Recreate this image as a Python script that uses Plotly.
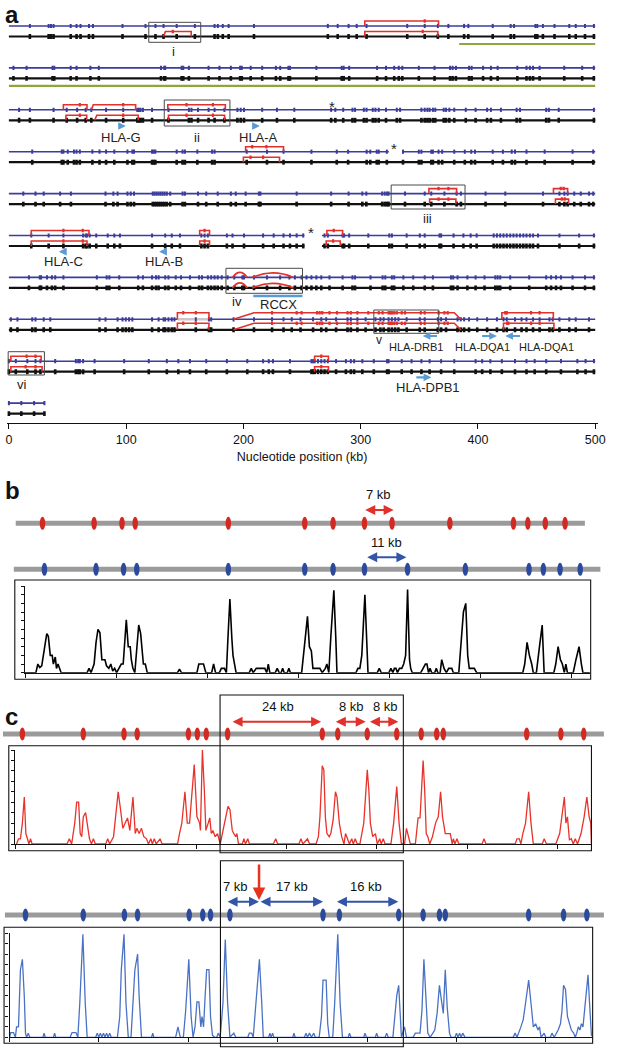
import plotly.graph_objects as go

# ======================= DATA =======================
# ---- panel a: restriction-site positions (kb) on each row ----
row1_sites = [17.9, 33.9, 35.9, 38.1, 52.7, 57.7, 61.1, 68.3, 71.7, 96.9, 116.5, 125, 131.9, 143.1, 158.6,
              175.4, 178.2, 182.4, 187.4, 209, 272, 280.4, 289.7, 296.6, 305, 339.7, 354.6, 365.8, 374.8,
              388.2, 391.8, 412.6, 427.9, 430.8, 449, 450.6, 455.4, 465.3, 477.9, 483.4, 491.3, 498.9]
row2_sites = [3.9, 15.1, 37.2, 38.7, 52.7, 57.7, 69.5, 76.7, 129.7, 132.5, 133.3, 147.3, 148.7, 153.5, 170.3,
              179.6, 189.3, 197.2, 198.6, 206.2, 216, 227.7, 231.4, 238.4, 239.7, 262.2, 283.8, 285.5, 290.2,
              314, 321.6, 328.6, 332.5, 335.5, 349.6, 363, 376.2, 378.4, 381.2, 392.4, 394.6, 404.4, 411.1,
              416.8, 433.6, 441.4, 444.3, 447, 452.6, 473.6, 488.9, 498.8]
row3_sites = [8.7, 17.9, 38.1, 49.3, 58.2, 65.5, 70.3, 82.9, 97.5, 109.5, 110.9, 112.3, 114.3, 122.1, 136.1,
              153.5, 155.7, 161.3, 170.3, 175.4, 183.8, 194.9, 197.7, 200.5, 216, 228.6, 243.4, 274.8, 278.4,
              285.1, 293, 295.2, 302.7, 305, 310.3, 312.6, 315.4, 321.6, 330.8, 333.6, 351.8, 354.6, 356.9,
              358.8, 361.6, 363.6, 370.8, 372.8, 375.6, 379.8, 389.6, 398, 407.8, 411.1, 419.6, 433, 435.9,
              458.2, 460.5, 468.9, 498.9]
row4_sites = [19.9, 45.1, 46.5, 50.2, 55.5, 57.7, 60.5, 71.2, 77.3, 82.9, 89.9, 101.1, 105.3, 106.7, 122.1,
              123.5, 124.9, 143.1, 148.1, 150.1, 160.7, 173.3, 175.4, 202.8, 220.1, 234.2, 258, 279.6, 289.3,
              305.1, 308.2, 313.7, 315.4, 322.3, 336.1, 349.6, 351.8, 360.2, 361.6, 366.4, 369.5, 379.8,
              388.8, 394.3, 397.5, 412.6, 421.3, 428.8, 431.6, 441.4, 456.9, 480.7, 498.3]
row5_sites = [12.3, 22.7, 29.7, 43.7, 52.9, 82.4, 89.1, 92.7, 101.1, 103.9, 106.7, 122.7, 124.3, 126, 127.7,
              129.4, 131.1, 132.8, 134.7, 137.6, 148.1, 150.1, 161.3, 168.3, 178.1, 189.3, 193.5, 201.9,
              213.2, 214.5, 245.4, 274.8, 289.7, 301.4, 304.8, 318.3, 320.5, 322.5, 323.8, 337.8, 354.6,
              360.2, 371.4, 381.8, 385.5, 406.5, 423.3, 455.5, 469.5, 473.7, 476.5, 482.1, 487.7, 494.7, 498.3]
row6_sites = [19.1, 33.9, 46.5, 63.3, 65.5, 66.6, 68.9, 74.5, 84.3, 89.9, 94.7, 122.1, 133.3, 138.9, 145.9,
              164.1, 166.9, 169.7, 185.9, 190.7, 200.5, 216.8, 225.8, 234.2, 239.7, 245.4, 251, 269.2, 272,
              284.6, 285.9, 290.2, 306.5, 324.4, 326.6, 339.2, 350.4, 354.6, 367.2, 368.6, 379.2, 387.6,
              393.8, 398.9, 413.4, 416.2, 419, 421.8, 424.6, 427.5, 430.3, 433, 435.9, 438.7, 441.4, 444.3,
              447, 451.2, 469.5, 486.3, 498.9]
row7_sites = [17.1, 26.3, 27.5, 32.5, 36.7, 39.5, 46.5, 75, 83.4, 85.7, 94.1, 110.3, 114.3, 122.1, 125.5,
              127.7, 133.3, 136.1, 142.3, 146.8, 154.4, 162.2, 164.7, 169.7, 172.5, 175.4, 178.1, 181.5,
              186.5, 192.2, 199.1, 200.5, 209, 220.1, 231.3, 239.2, 243.9, 249.6, 253.8, 258, 262.2, 266.4,
              273.4, 284.6, 293, 295.2, 308.4, 318.7, 321, 326.6, 328.6, 336.4, 344.8, 354.6, 361.6, 377,
              378.9, 382.6, 391, 398, 405.6, 414.8, 416.8, 419, 427.5, 443.7, 458.2, 462.4, 466.6, 470.8,
              480.7, 491.3, 498.9]
row8_sites = [1.7, 7.3, 19.9, 22.7, 29.7, 35.3, 77.3, 82.4, 92.7, 96.9, 99.7, 102.5, 105.3, 122.1, 127.7,
              131.9, 133.3, 136.1, 138.9, 141.2, 159.4, 170.6, 172.5, 191.6, 209, 224.4, 234.2, 241.2, 248.7,
              259.4, 266.4, 270.6, 279, 288.8, 291.6, 297.2, 304.2, 312.6, 316.8, 319.6, 323.8, 326.6, 329.4,
              332.2, 339.2, 350.4, 354.6, 365.8, 368.6, 372.8, 382.6, 385.4, 388.2, 392.4, 399.4, 407.8,
              416.2, 421.8, 424.6, 431.6, 437.2, 441.4, 447, 452.6, 461, 463.8, 469.5, 477.9, 483.4, 494.7]
row9_sites = [0, 5.9, 15.7, 22.7, 26.9, 39.5, 57.1, 59.1, 60.5, 63.3, 73.1, 98.3, 119.3, 134.7, 144.5, 154.4,
              168.3, 185.9, 203.3, 216.8, 221.6, 225.2, 239.7, 258, 259.4, 260.8, 263.6, 266.4, 269.2, 272,
              279, 287.4, 291.6, 294.4, 301.4, 311.2, 322.5, 323.8, 335, 343.4, 351.8, 358.8, 368.6, 379.8,
              398, 403.6, 410.6, 420.4, 431.6, 441.4, 448.4, 458.2, 470.8, 484.8, 491.8, 498.9]
row10_sites = [0, 10.6, 21.5, 30.3]
row_ends = [500, 500, 500, 500, 500, 500, 500, 500, 500, 30.3]
blue_gaps = {4: [(324, 336)], 6: [(252, 267)]}
black_gaps = {6: [(252, 267)]}
green_bars = [(1, 384, 500), (2, 0, 500)]
stars = [(3, 275.6), (4, 328.8), (6, 258.0)]
# (row, track, left-base, left-top, right-top, right-base, marks)
row8_marks = [224.4, 245.4, 249.6, 262.8, 265, 267.2, 273.4, 279.8, 288.8, 291.6, 297.2, 306.5, 315.4,
              318.7, 323.8, 325.2, 326.6, 328.6, 330.8, 335, 337.8, 351.3, 354.6, 366.4, 371.4, 374.2]
brackets = [
    (1, 'black', 131.9, 133.5, 155.5, 155.5, [139.8]),
    (1, 'blue', 303.5, 303.5, 366.4, 366.4, [354.6]),
    (1, 'black', 303.5, 303.5, 365.8, 365.8, [352.9]),
    (3, 'blue', 46.5, 46.5, 66.6, 66.6, [60.5]),
    (3, 'blue', 70.3, 72.0, 108.1, 108.1, [97.5]),
    (3, 'black', 48.7, 48.7, 66.4, 66.4, [60.5]),
    (3, 'black', 73.1, 75.0, 110.3, 110.3, [97.5]),
    (3, 'blue', 135.5, 135.5, 184.6, 184.6, [151.5, 174]),
    (3, 'black', 136.1, 136.1, 184.0, 184.0, [151.5, 174]),
    (4, 'blue', 201.9, 201.9, 234.2, 234.2, [207.5, 219.6]),
    (4, 'black', 200.0, 200.0, 230.8, 230.8, [206.1, 216.8]),
    (5, 'blue', 358.2, 358.2, 381.8, 381.8, [366.4, 374.8]),
    (5, 'black', 358.8, 358.8, 381.2, 381.2, [366.4, 374.8]),
    (5, 'blue', 464.4, 464.4, 476.5, 476.5, [470.6, 473.1]),
    (5, 'black', 466.1, 466.1, 477.3, 477.3, [471.5, 474.0]),
    (6, 'blue', 19.1, 19.1, 68.3, 68.3, [46.5, 63]),
    (6, 'black', 19.1, 19.1, 66.6, 66.6, [46.5, 63]),
    (6, 'blue', 162.7, 162.7, 171.1, 171.1, [166.9]),
    (6, 'black', 162.7, 162.7, 171.1, 171.1, [166.9]),
    (6, 'blue', 271.2, 271.2, 284.6, 284.6, [277.0]),
    (6, 'black', 270.6, 270.6, 282.6, 282.6, [276.5]),
    (8, 'blue', 143.7, 143.7, 170.6, 170.6, [148.7, 159.4]),
    (8, 'black', 143.7, 143.7, 170.6, 170.6, [148.7, 159.4]),
    (8, 'blue', 191.6, 209.0, 379.8, 385.4, row8_marks),
    (8, 'black', 191.6, 209.0, 379.8, 385.4, row8_marks),
    (8, 'blue', 420.4, 420.4, 464.3, 464.3, [423.3, 424.6, 445.3, 452.6]),
    (8, 'black', 421.8, 421.8, 464.8, 464.8, [425.0, 426.0, 445.3, 452.6]),
    (9, 'blue', 1.7, 1.7, 27.5, 27.5, [15.1, 22.7]),
    (9, 'black', 1.7, 1.7, 28.3, 28.3, [14.3, 22.7]),
    (9, 'blue', 260.7, 260.7, 272.5, 272.5, [266.4]),
    (9, 'black', 260.7, 260.7, 272.5, 272.5, [266.4]),
]
arcs = [(7, 190.7, 203.3, 5.0), (7, 207.5, 242.6, 4.5)]
gap_band = (8, 143.7, 170.6)
# boxes: (x0 kb, x1 kb, y0 px, y1 px)
a_boxes = [(119.3, 163.6, 22.3, 42.3), (132.5, 188.5, 100, 126), (326, 389, 185, 209),
           (185.1, 250.4, 268.3, 293.3), (311.2, 366.6, 310, 333.3), (-0.6, 30.3, 351.7, 375)]
a_labels = [('i', 140.3, 51, 13), ('HLA-G', 95.5, 137, 13), ('ii', 160, 137, 13), ('HLA-A', 213.2, 137, 13),
            ('iii', 356.9, 218, 13), ('HLA-C', 46.5, 261.7, 13), ('HLA-B', 131.9, 261.7, 13),
            ('iv', 194.4, 301.7, 13), ('RCCX', 230, 304, 13), ('v', 315.4, 340, 12),
            ('HLA-DRB1', 347.6, 347.3, 11), ('HLA-DQA1', 403.6, 347.3, 11), ('HLA-DQA1', 458.2, 347.3, 11),
            ('vi', 11.5, 384, 13), ('HLA-DPB1', 357.4, 387.3, 13)]
gene_arrows = [(95.8, 99.8, 126), (210.0, 214.0, 126), (46.7, 42.7, 251.7), (132.2, 128.2, 251.7),
               (366.4, 352.9, 336), (402.3, 416.2, 336), (437.2, 423.3, 336), (346.2, 360.2, 377.3)]
rccx_bar = (208.4, 250.4, 296)
axis_ticks = [0, 100, 200, 300, 400, 500]

# ---- panel b ----
b_red_sites = [4.5, 17.8, 25, 28.4, 52.4, 72.1, 79.4, 87.5, 94.6, 109.5, 125.9, 129.6, 134.1, 139.2]
b_blue_sites = [5, 18.3, 25.4, 28.8, 52.4, 72.1, 79.4, 87.5, 98.6, 113.5, 129.9, 133.6, 137.9, 143.1]
b_red_line = (-2.4, 144.3)
b_blue_line = (-2.9, 148.3)
b_red_span = (87.3, 95.0, '7 kb')
b_blue_span = (87.8, 98.3, '11 kb')
b_profile = [(0, 0), (2.8, 0), (3.3, 1), (3.8, 0.6), (4.3, 0.8), (5.0, 3), (5.6, 4.5), (6.0, 4.2), (6.5, 2),
             (7.0, 2), (7.3, 1), (7.8, 1.8), (8.1, 0.5), (8.5, 1), (9.0, 0.4), (9.3, 0), (16.0, 0), (16.5, 0.5),
             (17.0, 0), (17.8, 1), (18.3, 3.5), (18.8, 5), (19.3, 4.6), (19.8, 1.5), (20.6, 1.5), (21.0, 0.8),
             (21.6, 0.5), (22.1, 1), (22.6, 0.2), (23.1, 0.5), (23.6, 0), (24.2, 0.5), (24.8, 1), (25.3, 1),
             (25.6, 3), (26.1, 6.1), (26.6, 3), (27.1, 3), (27.4, 1.5), (27.8, 0.5), (28.3, 0), (28.8, 3),
             (29.3, 5.5), (29.8, 4.5), (30.2, 2), (30.5, 1), (31.0, 1), (31.5, 0), (39.3, 0), (39.8, 0.4),
             (40.3, 0), (44.3, 0), (44.8, 1), (46.0, 1), (46.6, 0), (48.1, 0), (48.6, 1), (49.1, 0), (50.1, 0),
             (50.6, 0.5), (51.4, 0.5), (51.9, 0), (52.3, 4), (52.8, 8.5), (53.3, 4), (53.6, 2), (54.0, 1),
             (54.4, 0), (57.8, 0), (58.3, 0.5), (58.8, 0), (59.6, 0.5), (61.8, 0.5), (62.3, 0), (62.7, 1),
             (63.1, 0), (64.5, 0), (65.0, 0.5), (65.5, 0), (66.0, 0), (66.4, 0.5), (66.8, 0), (67.6, 0),
             (68.0, 0.5), (68.4, 0), (71.3, 0), (72.0, 3), (72.8, 6.5), (73.3, 3), (73.8, 2.5), (74.2, 0.5),
             (75.3, 0.5), (76.0, 0.5), (76.6, 0), (77.4, 0.5), (77.8, 1), (78.3, 0), (78.8, 4), (79.6, 9.5),
             (80.1, 4), (80.4, 0), (85.3, 0), (85.8, 0.5), (86.3, 0.5), (86.8, 2), (87.6, 9), (88.1, 2),
             (88.4, 0), (90.8, 0), (91.3, 0.5), (91.8, 0), (93.8, 0), (94.3, 0.5), (94.8, 0), (95.2, 0.5),
             (95.6, 0.5), (96.0, 0), (96.5, 0.5), (97.1, 0.5), (97.6, 1), (98.1, 2), (98.6, 9.6), (99.1, 1.5),
             (99.4, 0.5), (99.8, 0), (102.0, 0), (102.6, 0.5), (103.2, 1), (103.6, 1), (104.0, 0), (104.4, 0.5),
             (104.8, 0), (105.6, 0), (106.0, 0.5), (106.4, 0), (107.0, 0), (107.4, 1.5), (108.0, 0.5),
             (108.6, 0), (109.2, 0.5), (110.0, 0.5), (110.4, 0), (111.8, 0), (112.3, 3), (113.0, 7),
             (113.6, 8), (114.1, 2), (114.5, 0.5), (115.0, 0.5), (115.8, 0.5), (116.4, 0), (128.3, 0),
             (128.8, 1), (129.4, 3.5), (130.0, 2), (130.6, 1), (131.0, 0), (131.8, 0), (132.6, 3), (133.3, 5.5),
             (133.8, 0), (136.3, 0), (136.8, 1), (137.4, 3), (138.0, 1.5), (138.5, 1), (139.0, 0), (139.4, 1),
             (139.8, 0), (141.3, 0), (142.0, 1.5), (142.8, 3), (143.4, 1), (143.8, 0), (145.6, 0)]

# ---- panel c (top, red) ----
c_red_sites = [1.8, 17.5, 28, 31.4, 44.6, 46.9, 49.2, 54.7, 79.1, 83.1, 90.7, 98.3, 104.6, 108.6, 110.3,
               131.8, 140.6, 146.5]
c_red_line = (-3.2, 151.7)
c_red_spans = [(55.6, 78.8, '24 kb', 67.6), (82.2, 90.3, '8 kb', 86.7), (91.0, 98.7, '8 kb', 95.3)]
c_red_profile = [(0.3, 0), (0.8, 0.5), (1.3, 0.5), (1.8, 2), (2.3, 4.5), (2.7, 1), (3.1, 0.5), (3.5, 0),
                 (3.9, 0.5), (4.3, 0), (13.3, 0), (13.9, 0.5), (14.5, 0), (15.3, 2), (15.8, 4), (16.3, 4),
                 (16.7, 1), (17.1, 0.7), (17.5, 2.6), (18.1, 3), (18.5, 2), (19.1, 0.5), (19.6, 0), (20.1, 0.5),
                 (20.6, 0), (23.3, 0), (23.8, 0.5), (24.3, 0), (25.3, 0.7), (25.9, 2.6), (26.5, 5), (27.1, 3.3),
                 (27.7, 1.5), (28.3, 2), (28.9, 2.5), (29.5, 1.3), (30.3, 4.5), (30.9, 1), (31.3, 1.5),
                 (31.9, 1), (32.5, 1.5), (33.1, 0.7), (33.8, 0.5), (34.3, 0), (34.9, 0.5), (35.3, 0),
                 (35.8, 0.5), (36.3, 0), (37.3, 0.5), (37.8, 0), (41.8, 0), (42.3, 1), (42.9, 2), (43.7, 5),
                 (44.3, 2), (44.9, 2), (45.5, 5.2), (46.1, 7.6), (46.8, 2.6), (47.5, 2), (47.7, 1.3), (48.2, 9),
                 (48.7, 5.2), (49.1, 1.3), (49.7, 2), (50.1, 2.5), (50.5, 1), (50.9, 1.3), (51.5, 0.7),
                 (52.1, 1), (52.8, 0), (53.5, 1.3), (54.1, 2.6), (54.8, 3.6), (55.3, 3.3), (55.9, 1.3),
                 (56.3, 1), (56.8, 0.7), (57.1, 1), (57.5, 0), (58.5, 0), (58.9, 0.5), (59.3, 0), (59.9, 0.5),
                 (60.3, 0), (66.5, 0), (67.1, 0.5), (67.6, 0), (73.1, 0), (73.6, 0.5), (74.1, 0), (75.3, 0.5),
                 (75.8, 0), (77.5, 0), (78.1, 0.7), (78.5, 2.6), (79.1, 7.5), (79.5, 7.1), (79.9, 2.6),
                 (80.3, 1), (80.9, 0.7), (81.3, 1), (81.9, 2.3), (82.5, 5), (82.9, 4.5), (83.5, 2), (84.1, 0.7),
                 (84.7, 0), (85.1, 1), (85.6, 0.5), (86.1, 0), (86.7, 0.5), (87.1, 0), (87.6, 0.5), (88.1, 0),
                 (88.8, 0), (89.3, 1), (89.8, 2), (90.7, 7.1), (91.1, 5.2), (91.5, 2), (92.1, 0.7), (92.8, 1),
                 (93.3, 0), (93.9, 0.5), (94.3, 0), (94.8, 0.5), (95.3, 0), (96.8, 0), (97.5, 2), (98.3, 5.5),
                 (98.9, 2), (99.5, 0), (100.3, 0), (100.8, 1.5), (101.3, 0.7), (101.8, 0), (103.1, 0),
                 (103.8, 2.5), (104.3, 2.5), (104.7, 5.2), (105.1, 8), (105.5, 5.2), (105.9, 1), (106.3, 0.7),
                 (106.8, 0), (107.5, 0.7), (108.3, 2), (109.0, 2.6), (109.6, 5), (110.1, 2.6), (110.8, 1),
                 (112.1, 1), (112.6, 0), (112.9, 0.5), (113.3, 0), (113.8, 0.5), (114.3, 0), (120.3, 0),
                 (120.8, 0.5), (121.3, 0), (128.8, 0), (129.3, 0.5), (129.9, 0.5), (130.3, 0), (130.8, 1),
                 (131.5, 2), (132.3, 5), (132.9, 2), (133.5, 0), (135.8, 0), (136.3, 0.5), (136.9, 0),
                 (139.3, 0), (140.3, 1), (140.9, 2.6), (141.5, 4.5), (141.9, 2), (142.3, 2.6), (142.8, 0.4),
                 (143.3, 0.5), (143.8, 0), (144.3, 0.5), (144.9, 0), (145.3, 0.5), (145.8, 1), (146.6, 2.6),
                 (147.3, 4.5), (147.9, 2.6), (148.3, 2), (148.5, 0)]

# ---- panel c (bottom, blue) ----
c_blue_sites = [4.1, 19, 29.6, 33, 46.3, 49.8, 51.8, 56.8, 80.8, 85, 100.3, 106.6, 110.8, 112.3, 133.8,
                142.8, 148.8]
c_blue_line = (-1.2, 153.2)
c_blue_spans = [(55.8, 64.3, '7 kb', 58.3), (64.3, 80.8, '17 kb', 72.7), (84.0, 100.2, '16 kb', 92.0)]
c_break_arrow = (64.3, 863, 900)
c_blue_profile = [(0, 0), (0.3, 0.45), (1.0, 0.45), (1.5, 0), (1.8, 1), (2.3, 1), (2.8, 6.5), (3.3, 7.5),
                  (3.8, 3.9), (4.1, 0.4), (4.4, 0), (4.8, 0.4), (5.2, 0), (8.6, 0), (8.9, 0.4), (9.2, 0),
                  (11.3, 0), (11.6, 0.4), (11.9, 0), (15.6, 0), (16.1, 0.45), (17.1, 0.45), (17.6, 0),
                  (18.1, 3.3), (18.9, 9.9), (19.5, 3.3), (20.0, 0), (22.2, 0), (22.6, 0.4), (23.0, 0),
                  (23.4, 0.4), (23.8, 0), (24.2, 0.4), (24.6, 0), (25.0, 0.4), (25.4, 0), (25.8, 0.4), (26.2, 0),
                  (27.8, 0), (28.4, 2), (28.8, 6.5), (29.5, 9.9), (30.0, 3.3), (30.6, 0), (31.3, 0), (31.8, 3.3),
                  (32.3, 6.5), (33.0, 8), (33.4, 3.9), (34.0, 0), (36.6, 0), (36.9, 0.4), (37.2, 0), (42.8, 0),
                  (43.4, 1), (44.0, 0), (44.8, 0), (45.4, 2.6), (46.2, 7.5), (46.8, 2), (47.3, 0), (47.8, 1),
                  (48.3, 3.4), (48.8, 3.4), (49.3, 1), (49.6, 2), (50.0, 1), (50.4, 3.9), (50.8, 6.5),
                  (51.4, 6.5), (51.8, 2), (52.3, 0.2), (52.8, 0), (53.4, 0), (53.8, 0.4), (54.3, 0), (55.0, 3.3),
                  (55.6, 9.4), (56.2, 3.3), (56.8, 0), (57.8, 0.4), (58.3, 0), (61.4, 0), (61.8, 0.4),
                  (62.4, 0.4), (62.8, 0), (63.6, 3.9), (64.4, 7.5), (65.0, 3.3), (65.4, 0), (66.8, 0),
                  (67.1, 0.4), (67.4, 0), (67.8, 0.4), (68.1, 0), (73.0, 0), (73.3, 0.4), (73.6, 0), (76.0, 0),
                  (76.4, 0.4), (76.8, 0), (77.3, 0.4), (77.8, 0), (78.4, 0.4), (78.8, 0), (79.8, 0), (80.4, 2),
                  (80.8, 5.5), (81.6, 5.5), (82.0, 1.3), (82.4, 0), (83.3, 0), (83.8, 3.3), (84.6, 9.9),
                  (85.2, 3.3), (85.8, 0), (87.3, 0), (87.6, 0.4), (88.0, 0), (91.3, 0), (91.6, 0.4), (92.0, 0),
                  (94.3, 0), (94.6, 0.4), (95.0, 0), (96.8, 0), (97.2, 0.4), (97.6, 0), (98.8, 0), (99.3, 2),
                  (99.8, 4), (100.3, 5), (100.6, 2.6), (101.0, 0), (101.8, 1), (102.3, 0), (104.0, 0),
                  (104.6, 0.4), (105.8, 0.4), (106.3, 2.6), (106.8, 7.5), (107.3, 3.3), (107.8, 0.4), (108.4, 0),
                  (109.0, 0.4), (109.6, 0.7), (110.2, 2.3), (110.8, 5), (111.3, 3.6), (111.8, 2.3), (112.3, 6.5),
                  (112.8, 2.9), (113.4, 0.4), (113.8, 0), (114.8, 0), (115.2, 0.4), (115.6, 0), (116.0, 0.4),
                  (116.4, 0), (116.8, 0.4), (117.4, 0), (129.8, 0), (130.3, 0.4), (130.8, 0), (131.8, 1),
                  (132.4, 1.7), (133.0, 3.3), (133.8, 5.5), (134.4, 3.3), (135.0, 1), (135.6, 1.3), (136.2, 0.7),
                  (136.6, 1), (137.0, 0), (137.8, 0.4), (138.2, 0), (139.4, 0), (139.8, 0.4), (140.4, 0),
                  (141.0, 0.4), (141.4, 0.7), (142.0, 1.3), (142.4, 2.6), (142.8, 5), (143.3, 4.6), (143.8, 2),
                  (144.3, 1.3), (144.8, 0.7), (145.4, 0.4), (145.8, 0), (146.2, 0.4), (146.6, 1), (147.0, 0.7),
                  (147.4, 1.3), (147.8, 1), (148.4, 3.3), (149.1, 6), (149.6, 2.6), (150.0, 0.1)]

# ======================= LAYOUT CONSTANTS =======================
W, H = 617, 1050
FONT = 'Liberation Sans, Arial, Helvetica, sans-serif'
BLUE_A = '#3c3c9c'
RED = '#e2302a'
GREEN = '#8ba83c'
LBLUE = '#5b9bd5'
RED_ELL = '#d22a22'
BLUE_ELL = '#2c4a9c'
GREY_ROW = '#9b9b9b'
PXK = 3.937          # px per kb on optical-map panels
A_PXK = 595 / 500.0  # px per kb on panel a
A_PAD = 2.0
BLUE_Y0, ROW_GAP, TRACK_GAP = 26.0, 41.9, 10.5


def dom_x(l, r):
    return [l / W, r / W]


def dom_y(t, b):
    return [1 - b / H, 1 - t / H]


def fx(p):
    return p / W


def fy(p):
    return 1 - p / H


def blue_y(r):
    return BLUE_Y0 + (r - 1) * ROW_GAP


def track_y(r, t):
    return blue_y(r) + (TRACK_GAP if t == 'black' else 0)


fig = go.Figure()
shapes = []
annots = []

rows_sites = [row1_sites, row2_sites, row3_sites, row4_sites, row5_sites, row6_sites,
              row7_sites, row8_sites, row9_sites, row10_sites]


def segments(end, gaps):
    pts = [0]
    for g0, g1 in gaps:
        pts += [g0, g1]
    pts.append(end)
    return [(pts[i], pts[i + 1]) for i in range(0, len(pts), 2)]


# ---- panel a: green bars
gx, gy = [], []
for r, a, b in green_bars:
    gx += [a, b, None]
    gy += [blue_y(r) + 18, blue_y(r) + 18, None]
fig.add_trace(go.Scatter(x=gx, y=gy, mode='lines', line=dict(color=GREEN, width=2.2),
                         hoverinfo='skip', showlegend=False, xaxis='x', yaxis='y'))

# ---- panel a: tracks
for track, color, width, gapd in [('blue', BLUE_A, 1.6, blue_gaps), ('black', '#111111', 2.2, black_gaps)]:
    lx, ly, mx, my = [], [], [], []
    for i, sites in enumerate(rows_sites):
        r = i + 1
        y = track_y(r, track)
        for a, b in segments(row_ends[i], gapd.get(r, [])):
            lx += [a, b, None]
            ly += [y, y, None]
        mx += sites
        my += [y] * len(sites)
    fig.add_trace(go.Scatter(x=lx, y=ly, mode='lines', line=dict(color=color, width=width),
                             hoverinfo='skip', showlegend=False, xaxis='x', yaxis='y'))
    if track == 'blue':
        r, a, b = gap_band
        fig.add_trace(go.Scatter(x=[a, b], y=[track_y(r, 'blue')] * 2, mode='lines',
                                 line=dict(color='#c8c8c8', width=2.5), hoverinfo='skip',
                                 showlegend=False, xaxis='x', yaxis='y'))
    fig.add_trace(go.Scatter(x=mx, y=my, mode='markers',
                             marker=dict(symbol='line-ns', size=3 if track == 'blue' else 3.5,
                                         line=dict(color=color, width=2 if track == 'blue' else 2.6)),
                             hoverinfo='skip', showlegend=False, xaxis='x', yaxis='y'))

# ---- panel a: red brackets
bx, by, kx, ky = [], [], [], []
for r, t, lb, lt, rt, rb, marks in brackets:
    base = track_y(r, t)
    top = base - (6.5 if r == 8 else 5.0)
    bx += [lb, lt, rt, rb, None]
    by += [base, top, top, base, None]
    kx += marks
    ky += [top] * len(marks)
fig.add_trace(go.Scatter(x=bx, y=by, mode='lines', line=dict(color=RED, width=1.6),
                         hoverinfo='skip', showlegend=False, xaxis='x', yaxis='y'))
fig.add_trace(go.Scatter(x=kx, y=ky, mode='markers',
                         marker=dict(symbol='line-ns', size=2.5, line=dict(color=RED, width=2.2)),
                         hoverinfo='skip', showlegend=False, xaxis='x', yaxis='y'))
for r, a, b, h in arcs:
    for t in ('blue', 'black'):
        y = track_y(r, t)
        shapes.append(dict(type='path', xref='x', yref='y',
                           path=f'M {a},{y} Q {(a + b) / 2},{y - 2 * h} {b},{y}',
                           line=dict(color=RED, width=1.6)))

# RCCX bar
fig.add_trace(go.Scatter(x=[rccx_bar[0], rccx_bar[1]], y=[rccx_bar[2]] * 2, mode='lines',
                         line=dict(color=LBLUE, width=2.5), hoverinfo='skip', showlegend=False,
                         xaxis='x', yaxis='y'))

for x0, x1, y0, y1 in a_boxes:
    shapes.append(dict(type='rect', xref='x', yref='y', x0=x0, x1=x1, y0=y0, y1=y1,
                       line=dict(color='#4a4a4a', width=1)))

for txt, x, y, s in a_labels:
    annots.append(dict(text=txt, x=x, y=y, xref='x', yref='y', showarrow=False,
                       font=dict(size=s, color='#222', family=FONT)))
for r, x in stars:
    annots.append(dict(text='*', x=x, y=blue_y(r) - 3, xref='x', yref='y', showarrow=False,
                       font=dict(size=15, color='#222', family=FONT)))
for tail, head, y in gene_arrows:
    annots.append(dict(x=head, y=y, ax=tail, ay=y, xref='x', yref='y', axref='x', ayref='y',
                       text='', showarrow=True, arrowhead=2, arrowsize=0.7, arrowwidth=2.2,
                       arrowcolor=LBLUE, standoff=0, startstandoff=0))


# ---- optical-map helper
def ell_row(sites, y, color, xa, ya):
    ew = 2.8 / PXK
    for u in sites:
        shapes.append(dict(type='circle', xref=xa, yref=ya, x0=u - ew, x1=u + ew, y0=y - 6.5, y1=y + 6.5,
                           fillcolor=color, line=dict(width=0)))


def grey_row(extent, y, xa, ya):
    fig.add_trace(go.Scatter(x=list(extent), y=[y, y], mode='lines', line=dict(color=GREY_ROW, width=5),
                             hoverinfo='skip', showlegend=False, xaxis=xa, yaxis=ya))


def span(a, b, y, color, xa, ya):
    annots.append(dict(x=b, y=y, ax=a, ay=y, xref=xa, yref=ya, axref=xa, ayref=ya, text='',
                       showarrow=True, arrowhead=2, arrowside='end+start', arrowsize=1, arrowwidth=2,
                       arrowcolor=color, standoff=0, startstandoff=0))


def label(txt, x, y, xa, ya, size=13):
    annots.append(dict(text=txt, x=x, y=y, xref=xa, yref=ya, showarrow=False,
                       font=dict(size=size, color='#111', family=FONT)))


# ---- panel b
grey_row(b_red_line, 523.3, 'x3', 'y3')
grey_row(b_blue_line, 569.3, 'x3', 'y3')
ell_row(b_red_sites, 523.3, RED_ELL, 'x3', 'y3')
ell_row(b_blue_sites, 569.3, BLUE_ELL, 'x3', 'y3')
span(b_red_span[0], b_red_span[1], 510, RED, 'x3', 'y3')
label(b_red_span[2], (b_red_span[0] + b_red_span[1]) / 2, 494, 'x3', 'y3')
span(b_blue_span[0], b_blue_span[1], 557.3, '#3355a8', 'x3', 'y3')
label(b_blue_span[2], (b_blue_span[0] + b_blue_span[1]) / 2, 542.7, 'x3', 'y3')
fig.add_trace(go.Scatter(x=[p[0] for p in b_profile], y=[p[1] for p in b_profile], mode='lines',
                         line=dict(color='#000', width=1.6), hoverinfo='skip', showlegend=False,
                         xaxis='x2', yaxis='y2'))

# ---- panel c red
grey_row(c_red_line, 734, 'x5', 'y5')
ell_row(c_red_sites, 734, RED_ELL, 'x5', 'y5')
for a, b, t, lx in c_red_spans:
    span(a, b, 721.7, RED, 'x5', 'y5')
    label(t, lx, 706.7, 'x5', 'y5')
fig.add_trace(go.Scatter(x=[p[0] for p in c_red_profile], y=[p[1] for p in c_red_profile], mode='lines',
                         line=dict(color='#e8322a', width=1.3), hoverinfo='skip', showlegend=False,
                         xaxis='x4', yaxis='y4'))

# ---- panel c blue
grey_row(c_blue_line, 915, 'x7', 'y7')
ell_row(c_blue_sites, 915, BLUE_ELL, 'x7', 'y7')
for a, b, t, lx in c_blue_spans:
    span(a, b, 901.7, '#3355a8', 'x7', 'y7')
    label(t, lx, 886, 'x7', 'y7')
annots.append(dict(x=c_break_arrow[0], y=c_break_arrow[2], ax=c_break_arrow[0], ay=c_break_arrow[1],
                   xref='x7', yref='y7', axref='x7', ayref='y7', text='', showarrow=True, arrowhead=2,
                   arrowsize=1, arrowwidth=2.5, arrowcolor='#e8321e', standoff=0))
fig.add_trace(go.Scatter(x=[p[0] for p in c_blue_profile], y=[p[1] for p in c_blue_profile], mode='lines',
                         line=dict(color='#4a72c4', width=1.3), hoverinfo='skip', showlegend=False,
                         xaxis='x6', yaxis='y6'))

# ---- frames (paper coords)
for l, t, r, b in [(14, 580, 598.4, 679.3), (7.9, 745.7, 599.2, 850.7), (3.1, 927.3, 600.4, 1043.3),
                   (222.3, 695, 408.3, 852.7), (222.7, 860.7, 408.3, 1046.7)]:
    shapes.append(dict(type='rect', xref='paper', yref='paper', x0=fx(l), x1=fx(r), y0=fy(b), y1=fy(t),
                       line=dict(color='#111', width=1.1)))

for t, y in [('a', 15), ('b', 490), ('c', 716)]:
    annots.append(dict(text=f'<b>{t}</b>', x=fx(2), y=fy(y), xref='paper', yref='paper', showarrow=False,
                       xanchor='left', yanchor='middle', font=dict(size=24, color='#111', family=FONT)))

hidden = dict(visible=False, fixedrange=True)


def chart_x(l, r, anchor, dtick):
    return dict(domain=dom_x(l, r), range=[0, (r - l) / PXK], anchor=anchor, showline=True,
                linecolor='#111', linewidth=1.2, ticks='outside', ticklen=4, tickwidth=1, tickcolor='#111',
                tick0=0, dtick=dtick, showticklabels=False, showgrid=False, zeroline=False)


def chart_y(t, b, top, anchor):
    return dict(domain=dom_y(t, b), range=[0, top], anchor=anchor, showline=True, linecolor='#111',
                linewidth=1.2, ticks='outside', ticklen=3, tickwidth=1, tickcolor='#111', tick0=0, dtick=1,
                showticklabels=False, showgrid=False, zeroline=False)


def row_x(left):
    return dict(domain=[0, 1], range=[-left / PXK, (W - left) / PXK], **hidden)


fig.update_layout(
    width=W, height=H, margin=dict(l=0, r=0, t=0, b=0), paper_bgcolor='white', plot_bgcolor='rgba(0,0,0,0)',
    font=dict(family=FONT, color='#111'), showlegend=False, shapes=shapes, annotations=annots,
    xaxis=dict(domain=dom_x(8 - A_PAD * A_PXK, 603 + A_PAD * A_PXK), range=[-A_PAD, 500 + A_PAD],
               anchor='y', showline=True, linecolor='#111', linewidth=1.2, ticks='outside', ticklen=5,
               tickcolor='#111', tickvals=axis_ticks, tickfont=dict(size=12.5, family=FONT, color='#111'),
               showgrid=False, zeroline=False,
               title=dict(text='Nucleotide position (kb)', font=dict(size=12.5, family=FONT), standoff=6)),
    yaxis=dict(domain=dom_y(0, 423), range=[423, 0], anchor='x', **hidden),
    xaxis2=chart_x(24.4, 597.6, 'y2', 23.47),
    yaxis2=chart_y(586, 672.7, 10, 'x2'),
    xaxis3=dict(row_x(24.4), anchor='y3'),
    yaxis3=dict(domain=dom_y(486, 580), range=[580, 486], anchor='x3', **hidden),
    xaxis4=chart_x(14.6, 599.2, 'y4', 23.3),
    yaxis4=chart_y(750, 844, 9, 'x4'),
    xaxis5=dict(row_x(14.6), anchor='y5'),
    yaxis5=dict(domain=dom_y(695, 745), range=[745, 695], anchor='x5', **hidden),
    xaxis6=chart_x(8.7, 600.4, 'y6', 23.04),
    yaxis6=chart_y(933.3, 1037.3, 10, 'x6'),
    xaxis7=dict(row_x(8.7), anchor='y7'),
    yaxis7=dict(domain=dom_y(855, 927), range=[927, 855], anchor='x7', **hidden),
)

fig.write_html("out.html", config={'displayModeBar': False},
               post_script="document.body.style.margin='0';")
